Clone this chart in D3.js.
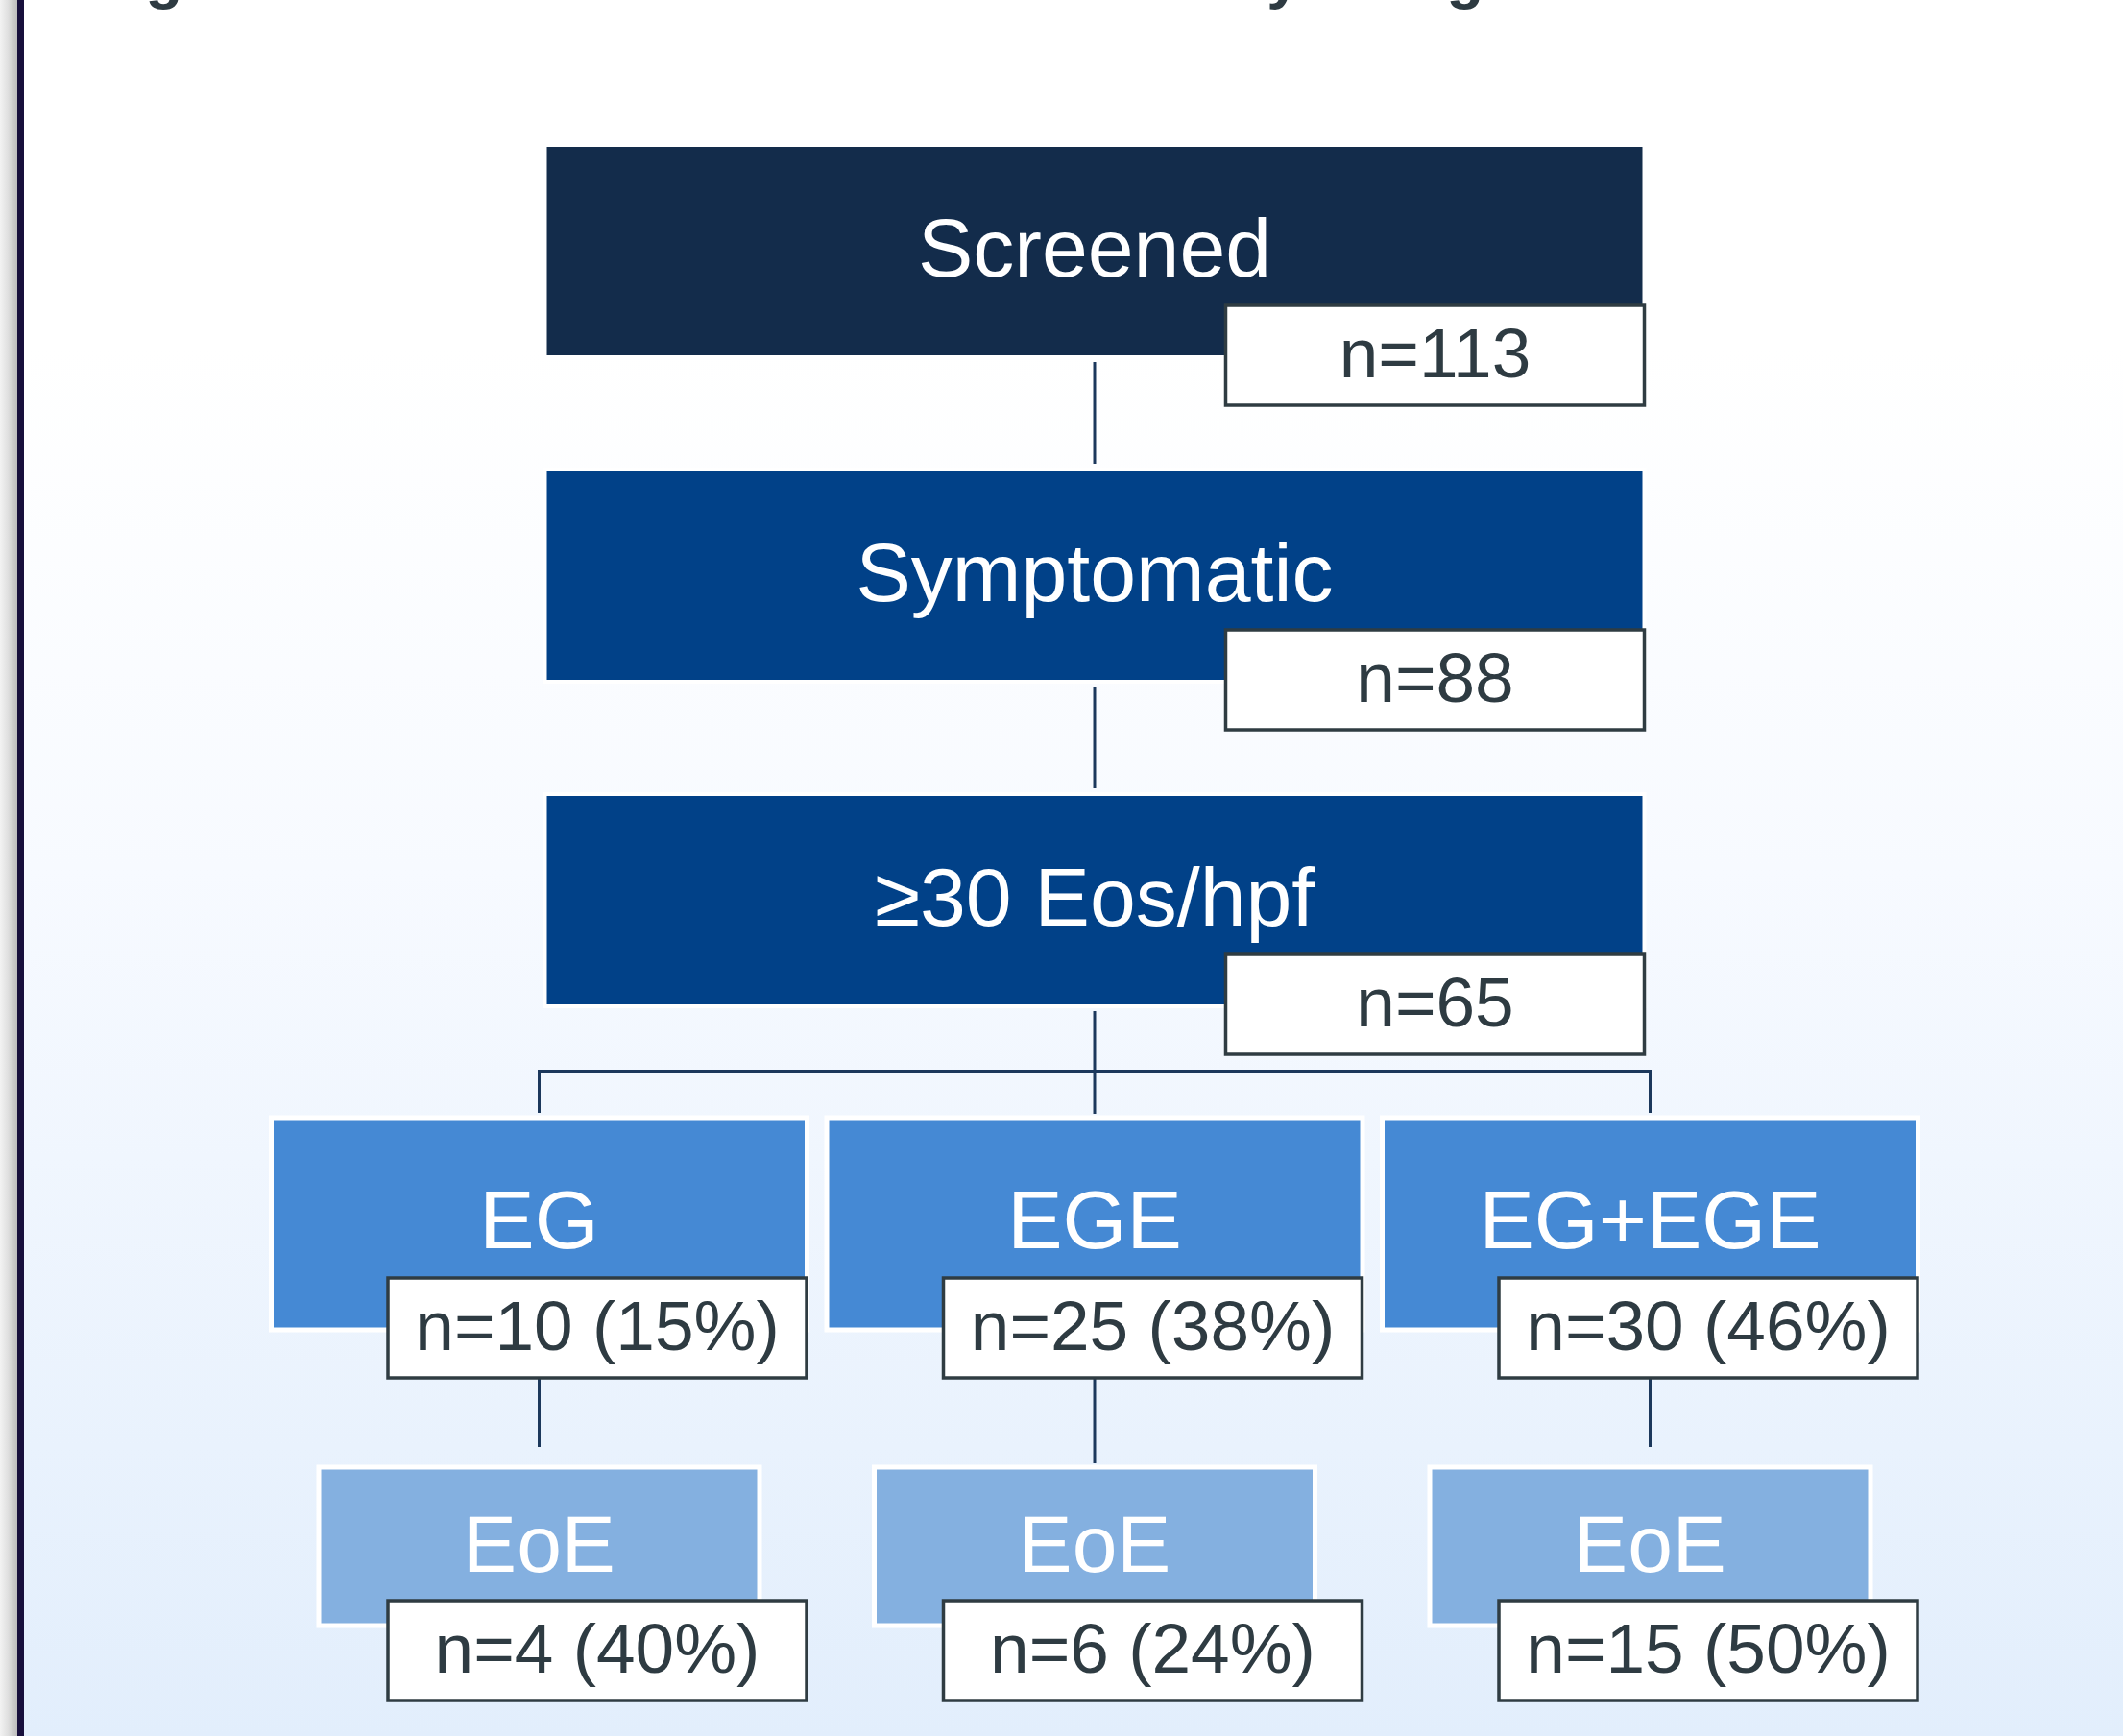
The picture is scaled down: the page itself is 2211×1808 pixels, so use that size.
<!DOCTYPE html>
<html>
<head>
<meta charset="utf-8">
<script src="https://cdn.jsdelivr.net/npm/d3@7"></script>
<style>
  html, body { margin: 0; padding: 0; background: #ffffff; }
  svg { display: block; }
</style>
</head>
<body>
<svg id="chart" width="2211" height="1808"></svg>
<script>
// ---- data ----
const titleText = "Figure 1. Overview of Enrollment in Study Design";
const stageLabels = ["Screened", "Symptomatic", "\u226530 Eos/hpf"];
const stageCounts = [113, 88, 65];
const branchLabels = ["EG", "EGE", "EG+EGE"];
const branchCounts = [10, 25, 30];
const branchPcts = [15, 38, 46];
const eoeLabels = ["EoE", "EoE", "EoE"];
const eoeCounts = [4, 6, 15];
const eoePcts = [40, 24, 50];

// ---- layout ----
const W = 2211, H = 1808;
const svg = d3.select("#chart");
const defs = svg.append("defs");

const bg = defs.append("linearGradient").attr("id", "bg")
  .attr("gradientUnits", "userSpaceOnUse")
  .attr("x1", 0).attr("y1", 0).attr("x2", 0).attr("y2", H);
bg.append("stop").attr("offset", 0).attr("stop-color", "#ffffff");
bg.append("stop").attr("offset", 0.2).attr("stop-color", "#ffffff");
bg.append("stop").attr("offset", 0.5).attr("stop-color", "#f7faff");
bg.append("stop").attr("offset", 1).attr("stop-color", "#e2eefc");

const edge = defs.append("linearGradient").attr("id", "edge")
  .attr("x1", 0).attr("y1", 0).attr("x2", 1).attr("y2", 0);
edge.append("stop").attr("offset", 0).attr("stop-color", "#f3f3f3");
edge.append("stop").attr("offset", 0.45).attr("stop-color", "#e0e0e0");
edge.append("stop").attr("offset", 1).attr("stop-color", "#bdbdbd");

svg.append("rect").attr("x", 0).attr("y", 0).attr("width", W).attr("height", H).attr("fill", "url(#bg)");
svg.append("rect").attr("x", 0).attr("y", 0).attr("width", 18).attr("height", H).attr("fill", "url(#edge)");
svg.append("rect").attr("x", 18).attr("y", 0).attr("width", 7).attr("height", H).attr("fill", "#170f3c");

// title (cut off at the top edge, only descenders visible)
svg.append("text").attr("x", 95).attr("y", -3)
  .attr("font-family", "Liberation Sans, Arial, sans-serif")
  .attr("font-weight", "bold").attr("font-size", 63.5)
  .attr("fill", "#2e3b42").text(titleText);

const FONT = "Liberation Sans, Arial, Helvetica, sans-serif";
const LINE = "#1c385c";
const NBOX_STROKE = "#2f3c42";
const TXT_DARK = "#2e3b42";

// scales
const xStage = d3.scalePoint().domain(stageLabels).range([1140, 1140]);     // single centered column
const yStage = d3.scalePoint().domain(stageLabels).range([151, 827]);       // box tops
const xCol = d3.scalePoint().domain(d3.range(branchLabels.length)).range([561.5, 1718.5]);
const yBranchTop = 1164, yEoeTop = 1528;

const stageW = 1145, stageH = 221;
const branchW = 558, branchH = 221;
const eoeW = 459, eoeH = 165;
const nW = 436, nH = 104;
const stageColors = ["#132c4b", "#014188", "#014188"];
const branchColor = "#4589d4";
const eoeColor = "#84b0e0";

const g = svg.append("g");

// connectors
const lines = g.append("g").attr("stroke", LINE).attr("fill", "none");
stageLabels.slice(0, -1).forEach((s, i) => {
  const y0 = yStage(s) + stageH + 5;
  const y1 = yStage(stageLabels[i + 1]) - 6;
  lines.append("line").attr("x1", 1140).attr("x2", 1140).attr("y1", y0).attr("y2", y1).attr("stroke-width", 3);
});
const lastTop = yStage(stageLabels[stageLabels.length - 1]);
lines.append("line").attr("x1", 1140).attr("x2", 1140)
  .attr("y1", lastTop + stageH + 5).attr("y2", yBranchTop - 4).attr("stroke-width", 3);
lines.append("line").attr("x1", xCol(0)).attr("x2", xCol(branchLabels.length - 1))
  .attr("y1", 1116).attr("y2", 1116).attr("stroke-width", 4);
[0, branchLabels.length - 1].forEach(i => {
  lines.append("line").attr("x1", xCol(i)).attr("x2", xCol(i))
    .attr("y1", 1114).attr("y2", yBranchTop - 5).attr("stroke-width", 3);
});
branchLabels.forEach((b, i) => {
  lines.append("line").attr("x1", xCol(i)).attr("x2", xCol(i))
    .attr("y1", yBranchTop + 270).attr("y2", i === 1 ? yEoeTop - 4 : yEoeTop - 21)
    .attr("stroke-width", 3);
});

function nBox(parent, right, top, label) {
  parent.append("rect").attr("x", right - nW).attr("y", top).attr("width", nW).attr("height", nH)
    .attr("fill", "#ffffff").attr("stroke", NBOX_STROKE).attr("stroke-width", 3.5);
  parent.append("text").attr("x", right - nW / 2).attr("y", top + 75)
    .attr("text-anchor", "middle").attr("font-family", FONT).attr("font-size", 73)
    .attr("fill", TXT_DARK).text(label);
}

// stage boxes
stageLabels.forEach((s, i) => {
  const cx = 1140, top = yStage(s);
  const grp = g.append("g");
  grp.append("rect").attr("x", cx - stageW / 2).attr("y", top).attr("width", stageW).attr("height", stageH)
    .attr("fill", stageColors[i]).attr("stroke", "#ffffff").attr("stroke-width", 4);
  grp.append("text").attr("x", cx).attr("y", top + 137).attr("text-anchor", "middle")
    .attr("font-family", FONT).attr("font-size", 86).attr("fill", "#ffffff").text(s);
  nBox(grp, cx + stageW / 2, top + 167, "n=" + stageCounts[i]);
});

// branch boxes
branchLabels.forEach((b, i) => {
  const cx = xCol(i);
  const grp = g.append("g");
  grp.append("rect").attr("x", cx - branchW / 2).attr("y", yBranchTop).attr("width", branchW).attr("height", branchH)
    .attr("fill", branchColor).attr("stroke", "#ffffff").attr("stroke-width", 5);
  grp.append("text").attr("x", cx).attr("y", yBranchTop + 136).attr("text-anchor", "middle")
    .attr("font-family", FONT).attr("font-size", 86).attr("fill", "#ffffff").text(b);
  nBox(grp, cx + 278.5, yBranchTop + 167, "n=" + branchCounts[i] + " (" + branchPcts[i] + "%)");
});

// EoE boxes
eoeLabels.forEach((e, i) => {
  const cx = xCol(i);
  const grp = g.append("g");
  grp.append("rect").attr("x", cx - eoeW / 2).attr("y", yEoeTop).attr("width", eoeW).attr("height", eoeH)
    .attr("fill", eoeColor).attr("stroke", "#ffffff").attr("stroke-width", 5);
  grp.append("text").attr("x", cx).attr("y", yEoeTop + 109).attr("text-anchor", "middle")
    .attr("font-family", FONT).attr("font-size", 84).attr("fill", "#ffffff").text(e);
  nBox(grp, cx + 278.5, yEoeTop + 139, "n=" + eoeCounts[i] + " (" + eoePcts[i] + "%)");
});
</script>
</body>
</html>
